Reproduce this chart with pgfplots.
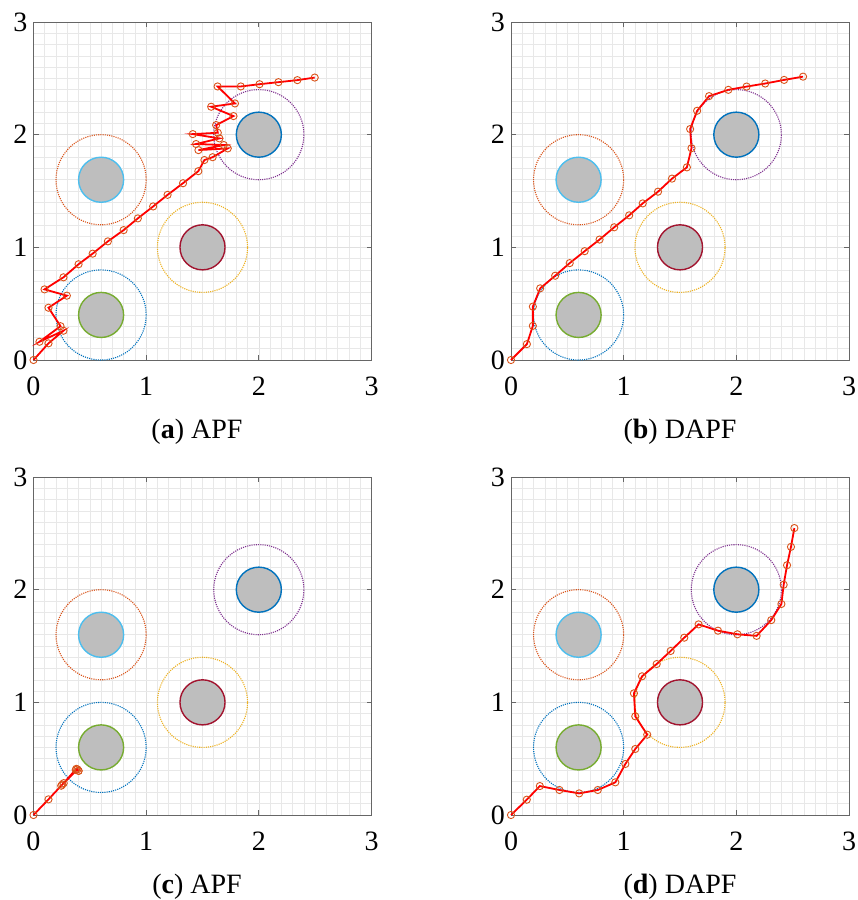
\documentclass[border=0pt]{standalone}
\usepackage{fontspec}
\setmainfont{Liberation Serif}
\usepackage{pgfplots}
\pgfplotsset{compat=1.18}
\definecolor{mBlue}{HTML}{0072BD}
\definecolor{mOrange}{HTML}{D95319}
\definecolor{mYellow}{HTML}{EDB120}
\definecolor{mPurple}{HTML}{7E2F8E}
\definecolor{mGreen}{HTML}{77AC30}
\definecolor{mCyan}{HTML}{4DBEEE}
\definecolor{mRed}{HTML}{A2142F}
\definecolor{obsFill}{HTML}{BEBEBE}
\pgfplotsset{
  panel/.style={
    width=338pt, height=338pt, scale only axis,
    xmin=0, xmax=3, ymin=0, ymax=3,
    xtick={0,1,2,3}, ytick={0,1,2,3},
    minor tick num=9,
    grid=both,
    major grid style={draw=black!12, line width=0.6pt},
    minor grid style={draw=black!9, line width=0.6pt},
    axis line style={draw=black!60, line width=0.8pt},
    tick style={draw=black!60, line width=0.8pt},
    major tick length=5pt, minor tick length=0pt,
    tick align=inside, tick pos=both,
    xticklabel pos=lower, yticklabel pos=left,
    /pgf/number format/assume math mode=true,
    ticklabel style={font=\rmfamily\fontsize{28}{28}\selectfont, inner sep=0pt},
    xticklabel style={anchor=north, yshift=-17pt},
    yticklabel style={anchor=east, xshift=-6pt},
    clip=false,
  },
  pathline/.style={draw=red, line width=1.8pt, mark=o, mark size=3.6pt,
    mark options={draw=mOrange, line width=0.9pt, fill=none, solid}},
}
\tikzset{
  infl/.style={line width=1.1pt, dash pattern=on 1.1pt off 1.1pt},
  obs/.style={line width=1.4pt, fill=obsFill},
  captext/.style={font=\rmfamily\fontsize{28}{28}\selectfont, anchor=base},
}
\newcommand{\obstacles}[1]{%
  \draw[infl, draw=mBlue]   (axis cs:0.6,#1) circle[radius=0.4];
  \draw[infl, draw=mOrange] (axis cs:0.6,1.6) circle[radius=0.4];
  \draw[infl, draw=mYellow] (axis cs:1.5,1.0) circle[radius=0.4];
  \draw[infl, draw=mPurple] (axis cs:2.0,2.0) circle[radius=0.4];
  \draw[obs, draw=mGreen]   (axis cs:0.6,#1) circle[radius=0.2];
  \draw[obs, draw=mCyan]    (axis cs:0.6,1.6) circle[radius=0.2];
  \draw[obs, draw=mRed]     (axis cs:1.5,1.0) circle[radius=0.2];
  \draw[obs, draw=mBlue]    (axis cs:2.0,2.0) circle[radius=0.2];
}
\begin{document}
\begin{tikzpicture}[x=1pt,y=1pt]
\useasboundingbox (0,0) rectangle (858,-900);

% (a) APF
\begin{axis}[panel, at={(33.5pt,-360pt)}, anchor=south west]
\obstacles{0.4}
\addplot[pathline] coordinates {
(0,0) (0.133,0.148) (0.266,0.26) (0.053,0.162) (0.24,0.30) (0.133,0.464)
(0.296,0.571) (0.098,0.627) (0.266,0.734) (0.40,0.85) (0.525,0.944)
(0.66,1.053) (0.80,1.153) (0.926,1.257) (1.062,1.363) (1.19,1.466)
(1.327,1.569) (1.463,1.676) (1.517,1.775) (1.59,1.80) (1.724,1.878)
(1.464,1.863) (1.689,1.908) (1.443,1.917) (1.65,1.967) (1.414,2.005)
(1.636,2.017) (1.621,2.085) (1.775,2.165) (1.577,2.248) (1.788,2.277)
(1.634,2.428) (1.84,2.428) (2.006,2.448) (2.174,2.466) (2.342,2.484)
(2.496,2.507)
};
\end{axis}
\node[captext] at (197,-438.5) {(\textbf{a}) APF};

% (b) DAPF
\begin{axis}[panel, at={(511pt,-360pt)}, anchor=south west]
\obstacles{0.4}
\addplot[pathline] coordinates {
(0,0) (0.141,0.141) (0.194,0.303) (0.194,0.474) (0.259,0.636) (0.392,0.748)
(0.521,0.86) (0.654,0.966) (0.786,1.069) (0.916,1.178) (1.049,1.284)
(1.169,1.39) (1.305,1.494) (1.429,1.61) (1.561,1.71) (1.602,1.88)
(1.59,2.05) (1.652,2.212) (1.758,2.342) (1.929,2.398) (2.091,2.427)
(2.256,2.454) (2.424,2.486) (2.592,2.515)
};
\end{axis}
\node[captext] at (680,-438.5) {(\textbf{b}) DAPF};

% (c) APF
\begin{axis}[panel, at={(33.5pt,-815pt)}, anchor=south west]
\obstacles{0.6}
\addplot[pathline] coordinates {
(0,0) (0.133,0.139) (0.246,0.26) (0.268,0.283) (0.38,0.41) (0.40,0.392)
(0.39,0.405) (0.255,0.27) (0.375,0.40) (0.40,0.392)
};
\end{axis}
\node[captext] at (197,-893) {(\textbf{c}) APF};

% (d) DAPF
\begin{axis}[panel, at={(511pt,-815pt)}, anchor=south west]
\obstacles{0.6}
\addplot[pathline] coordinates {
(0,0) (0.14,0.136) (0.256,0.257) (0.43,0.222) (0.605,0.192) (0.77,0.222)
(0.926,0.29) (1.015,0.453) (1.103,0.586) (1.209,0.713) (1.103,0.876)
(1.091,1.08) (1.163,1.231) (1.293,1.34) (1.417,1.456) (1.538,1.574)
(1.665,1.692) (1.837,1.636) (2.01,1.604) (2.18,1.59) (2.31,1.73)
(2.40,1.873) (2.42,2.044) (2.45,2.217) (2.485,2.38) (2.515,2.547)
};
\end{axis}
\node[captext] at (680,-893) {(\textbf{d}) DAPF};
\end{tikzpicture}
\end{document}
